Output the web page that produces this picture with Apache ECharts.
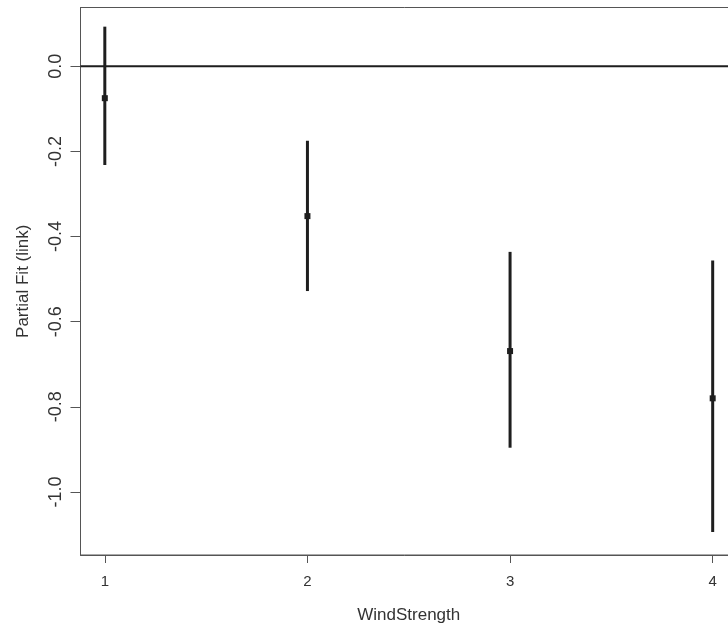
<!DOCTYPE html>
<html><head><meta charset="utf-8">
<script src="https://cdn.jsdelivr.net/npm/echarts@6/dist/echarts.min.js"></script>
<style>html,body{margin:0;padding:0;background:#fff}#c{width:728px;height:625px}</style>
</head><body><div id="c"></div>
<script>
const categories = [1, 2, 3, 4];
const fitValues = [-0.075, -0.352, -0.669, -0.780];
const upperValues = [0.093, -0.175, -0.436, -0.456];
const lowerValues = [-0.232, -0.528, -0.896, -1.094];
const xTicks = [1, 2, 3, 4];
const yTicks = [0, -0.2, -0.4, -0.6, -0.8, -1.0];
const refLine = 0;

const chart = echarts.init(document.getElementById('c'));
const font = 'Liberation Sans, Arial, sans-serif';
const ink = '#1e1e1e';
const axisCol = '#555';
const data = categories.map((c, i) => [c, fitValues[i], lowerValues[i], upperValues[i]]);

chart.setOption({
  animation: false,
  grid: { left: 80.5, top: 7.5, right: -9, bottom: 70, outerBoundsMode: 'none', containLabel: false,
    show: true, borderColor: axisCol, borderWidth: 1, backgroundColor: 'transparent' },
  xAxis: {
    type: 'value', min: 0.88, max: 4.12,
    name: 'WindStrength', nameLocation: 'middle', nameGap: 52,
    nameTextStyle: { fontFamily: font, fontSize: 17, color: '#333' },
    axisLine: { show: true, onZero: false, lineStyle: { color: axisCol } },
    axisTick: { show: true, length: 8, customValues: xTicks, lineStyle: { color: axisCol } },
    axisLabel: { customValues: xTicks, fontFamily: font, fontSize: 15, color: '#333', margin: 19 },
    splitLine: { show: false }
  },
  yAxis: {
    type: 'value', min: -1.148, max: 0.138,
    name: 'Partial Fit (link)', nameLocation: 'middle', nameGap: 49,
    nameTextStyle: { fontFamily: font, fontSize: 17, color: '#333' },
    axisLine: { show: true, onZero: false, lineStyle: { color: axisCol } },
    axisTick: { show: true, length: 10, customValues: yTicks, lineStyle: { color: axisCol } },
    axisLabel: { customValues: yTicks, rotate: 90, fontFamily: font, fontSize: 18, color: '#333', margin: 15,
      formatter: v => v.toFixed(1), align: 'center', verticalAlign: 'bottom' },
    splitLine: { show: false }
  },
  series: [
    {
      type: 'line', data: [[0.88, refLine], [4.12, refLine]], symbol: 'none',
      lineStyle: { color: ink, width: 2 }, silent: true, z: 1
    },
    {
      type: 'custom', z: 2,
      data: data,
      renderItem: (params, api) => {
        const x = api.value(0);
        const p = api.coord([x, api.value(1)]);
        const lo = api.coord([x, api.value(2)]);
        const hi = api.coord([x, api.value(3)]);
        return { type: 'group', children: [
          { type: 'line', shape: { x1: lo[0], y1: lo[1], x2: hi[0], y2: hi[1] }, style: { stroke: ink, lineWidth: 3 } },
          { type: 'rect', shape: { x: p[0] - 3, y: p[1] - 3, width: 6, height: 6 }, style: { fill: ink } }
        ]};
      }
    }
  ]
});
</script></body></html>
